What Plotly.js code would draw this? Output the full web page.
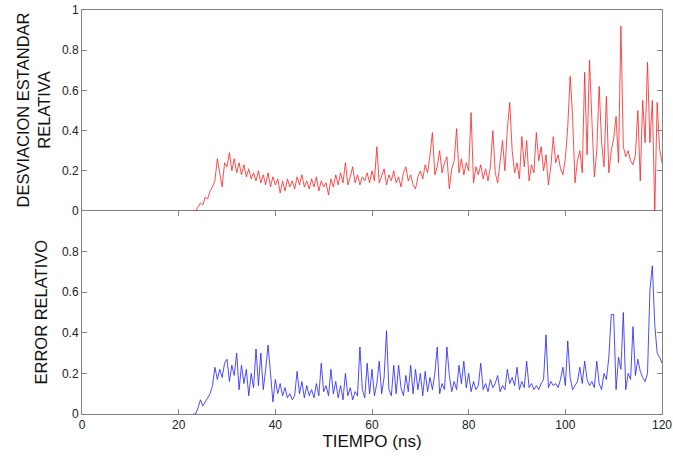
<!DOCTYPE html>
<html>
<head>
<meta charset="utf-8">
<script src="https://cdn.plot.ly/plotly-3.0.1.min.js"></script>
<style>html,body{margin:0;padding:0;background:#fff;}#chart{width:673px;height:459px;}</style>
</head>
<body>
<div id="chart"></div>
<script>
// Tiempo (ns) sampling grid
const tiempo = [
 23.0,23.5,24.0,24.5,25.0,25.5,26.0,26.5,27.0,27.5,28.0,28.5,29.0,29.5,30.0,30.5,31.0,31.5,32.0,32.5,
 33.0,33.5,34.0,34.5,35.0,35.5,36.0,36.5,37.0,37.5,38.0,38.5,39.0,39.5,40.0,40.5,41.0,41.5,42.0,42.5,
 43.0,43.5,44.0,44.5,45.0,45.5,46.0,46.5,47.0,47.5,48.0,48.5,49.0,49.5,50.0,50.5,51.0,51.5,52.0,52.5,
 53.0,53.5,54.0,54.5,55.0,55.5,56.0,56.5,57.0,57.5,58.0,58.5,59.0,59.5,60.0,60.5,61.0,61.5,62.0,62.5,
 63.0,63.5,64.0,64.5,65.0,65.5,66.0,66.5,67.0,67.5,68.0,68.5,69.0,69.5,70.0,70.5,71.0,71.5,72.0,72.5,
 73.0,73.5,74.0,74.5,75.0,75.5,76.0,76.5,77.0,77.5,78.0,78.5,79.0,79.5,80.0,80.5,81.0,81.5,82.0,82.5,
 83.0,83.5,84.0,84.5,85.0,85.5,86.0,86.5,87.0,87.5,88.0,88.5,89.0,89.5,90.0,90.5,91.0,91.5,92.0,92.5,
 93.0,93.5,94.0,94.5,95.0,95.5,96.0,96.5,97.0,97.5,98.0,98.5,99.0,99.5,100.0,100.5,101.0,101.5,102.0,102.5,
 103.0,103.5,104.0,104.5,105.0,105.5,106.0,106.5,107.0,107.5,108.0,108.5,109.0,109.5,110.0,110.5,111.0,111.5,112.0,112.5,
 113.0,113.5,114.0,114.5,115.0,115.5,116.0,116.5,117.0,117.5,118.0,118.5,119.0,119.5,120.0
];

// Desviacion estandar relativa (top, red)
const desviacion = [
 0.00,0.00,0.02,0.04,0.03,0.07,0.06,0.10,0.12,0.15,0.26,0.18,0.12,0.24,0.22,0.29,0.20,0.26,0.19,0.24,
 0.18,0.23,0.17,0.21,0.16,0.19,0.15,0.20,0.14,0.18,0.13,0.19,0.12,0.17,0.13,0.16,0.09,0.15,0.10,0.16,
 0.12,0.15,0.11,0.17,0.13,0.18,0.12,0.15,0.11,0.16,0.12,0.17,0.10,0.15,0.12,0.14,0.08,0.16,0.12,0.18,
 0.13,0.19,0.14,0.24,0.13,0.17,0.22,0.14,0.18,0.13,0.17,0.15,0.19,0.14,0.20,0.15,0.32,0.14,0.18,0.21,
 0.13,0.18,0.15,0.20,0.14,0.17,0.12,0.19,0.22,0.15,0.18,0.13,0.11,0.17,0.20,0.16,0.23,0.19,0.28,0.39,
 0.18,0.22,0.30,0.19,0.24,0.27,0.11,0.21,0.25,0.41,0.19,0.26,0.18,0.24,0.20,0.49,0.14,0.22,0.18,0.23,
 0.16,0.21,0.15,0.22,0.40,0.19,0.14,0.24,0.35,0.20,0.41,0.54,0.30,0.19,0.24,0.16,0.37,0.22,0.35,0.15,
 0.23,0.19,0.39,0.25,0.32,0.20,0.28,0.13,0.22,0.37,0.24,0.28,0.21,0.18,0.26,0.42,0.67,0.47,0.14,0.25,
 0.30,0.19,0.69,0.28,0.75,0.45,0.17,0.30,0.62,0.34,0.22,0.57,0.19,0.30,0.36,0.47,0.24,0.92,0.32,0.27,
 0.30,0.25,0.23,0.28,0.50,0.15,0.55,0.34,0.74,0.34,0.55,0.00,0.54,0.31,0.24
];

// Error relativo (bottom, blue)
const errorRel = [
 0.00,0.00,0.03,0.07,0.04,0.06,0.08,0.10,0.14,0.23,0.17,0.22,0.18,0.25,0.27,0.16,0.24,0.19,0.30,0.12,
 0.24,0.15,0.22,0.09,0.20,0.13,0.32,0.14,0.30,0.12,0.22,0.34,0.20,0.06,0.17,0.10,0.15,0.09,0.13,0.08,
 0.10,0.07,0.09,0.21,0.10,0.16,0.08,0.14,0.09,0.12,0.08,0.15,0.09,0.25,0.11,0.14,0.09,0.22,0.10,0.16,
 0.08,0.14,0.07,0.20,0.09,0.13,0.07,0.11,0.09,0.33,0.12,0.08,0.25,0.10,0.22,0.09,0.15,0.26,0.10,0.18,
 0.41,0.12,0.09,0.24,0.10,0.24,0.13,0.09,0.19,0.11,0.24,0.10,0.22,0.12,0.20,0.09,0.21,0.11,0.18,0.12,
 0.20,0.33,0.10,0.15,0.12,0.33,0.19,0.11,0.16,0.12,0.24,0.15,0.26,0.13,0.20,0.11,0.16,0.12,0.14,0.25,
 0.12,0.15,0.11,0.17,0.13,0.15,0.19,0.11,0.14,0.12,0.22,0.15,0.18,0.14,0.23,0.12,0.16,0.13,0.26,0.13,
 0.15,0.12,0.14,0.12,0.15,0.17,0.39,0.13,0.16,0.14,0.15,0.13,0.17,0.23,0.14,0.36,0.18,0.12,0.14,0.16,
 0.23,0.15,0.26,0.17,0.14,0.16,0.13,0.26,0.15,0.12,0.20,0.17,0.28,0.49,0.49,0.12,0.28,0.22,0.50,0.12,
 0.20,0.17,0.43,0.19,0.27,0.21,0.18,0.16,0.20,0.61,0.73,0.44,0.30,0.28,0.25
];

const xTicks = [0, 20, 40, 60, 80, 100, 120];
const yTicksTop = [0, 0.2, 0.4, 0.6, 0.8, 1];
const yTicksTopText = ['0', '0.2', '0.4', '0.6', '0.8', '1'];
const yTicksBottom = [0, 0.2, 0.4, 0.6, 0.8];
const yTicksBottomText = ['0', '0.2', '0.4', '0.6', '0.8'];
const titleTop = 'DESVIACION ESTANDAR<br>RELATIVA';
const titleBottom = 'ERROR RELATIVO';
const titleX = 'TIEMPO (ns)';

const split = 203 / 404;
const axisColor = '#808080';
const fontFam = 'Liberation Sans, Arial, Helvetica, sans-serif';

const traces = [
  {x: tiempo, y: desviacion, xaxis: 'x2', yaxis: 'y2', type: 'scatter', mode: 'lines',
   line: {color: '#ff2020', width: 0.8}, hoverinfo: 'x+y'},
  {x: tiempo, y: errorRel, xaxis: 'x', yaxis: 'y', type: 'scatter', mode: 'lines',
   line: {color: '#2020ff', width: 0.8}, hoverinfo: 'x+y'}
];

const baseAxis = {
  showline: true, linecolor: axisColor, linewidth: 1,
  ticks: 'inside', ticklen: 5, tickcolor: axisColor, tickwidth: 1,
  showgrid: false, zeroline: false,
  tickfont: {family: fontFam, size: 12, color: '#222'}
};

const layout = {
  width: 673, height: 459,
  margin: {l: 82, r: 11, t: 10, b: 45},
  paper_bgcolor: '#fff', plot_bgcolor: '#fff',
  showlegend: false,
  xaxis: Object.assign({}, baseAxis, {
    domain: [0, 1], anchor: 'y', range: [0, 120], mirror: 'ticks',
    tickvals: xTicks, ticktext: xTicks.map(String),
    title: {text: titleX, font: {family: fontFam, size: 17, color: '#111'}, standoff: 2}
  }),
  xaxis2: Object.assign({}, baseAxis, {
    domain: [0, 1], anchor: 'y2', side: 'top', range: [0, 120], matches: 'x', mirror: false,
    tickvals: xTicks, showticklabels: false, ticks: ''
  }),
  yaxis: Object.assign({}, baseAxis, {
    domain: [0, split], anchor: 'x', range: [0, 1], mirror: 'ticks',
    tickvals: yTicksBottom, ticktext: yTicksBottomText
  }),
  yaxis2: Object.assign({}, baseAxis, {
    domain: [split, 1], anchor: 'x2', range: [0, 1], mirror: 'ticks',
    tickvals: yTicksTop, ticktext: yTicksTopText
  }),
  annotations: [
    {text: titleTop, xref: 'paper', yref: 'paper', x: 0, y: (split + 1) / 2,
     xanchor: 'center', yanchor: 'middle', xshift: -49, textangle: -90, showarrow: false,
     font: {family: fontFam, size: 16.5, color: '#111'}},
    {text: titleBottom, xref: 'paper', yref: 'paper', x: 0, y: split / 2,
     xanchor: 'center', yanchor: 'middle', xshift: -42, textangle: -90, showarrow: false,
     font: {family: fontFam, size: 16.5, color: '#111'}}
  ]
};

Plotly.newPlot('chart', traces, layout, {displayModeBar: false, staticPlot: true});
</script>
</body>
</html>
